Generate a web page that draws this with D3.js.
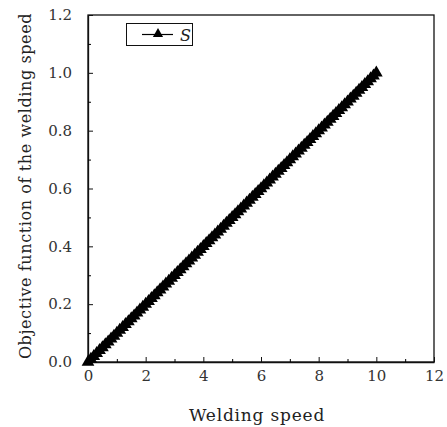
<!DOCTYPE html>
<html><head><meta charset="utf-8">
<script src="https://d3js.org/d3.v7.min.js"></script>
<style>body{margin:0;background:#fff}svg{display:block}</style>
</head><body>
<script>
const speedValues = [0,0.1,0.2,0.3,0.4,0.5,0.6,0.7,0.8,0.9,1.0,1.1,1.2,1.3,1.4,1.5,1.6,1.7,1.8,1.9,2.0,2.1,2.2,2.3,2.4,2.5,2.6,2.7,2.8,2.9,3.0,3.1,3.2,3.3,3.4,3.5,3.6,3.7,3.8,3.9,4.0,4.1,4.2,4.3,4.4,4.5,4.6,4.7,4.8,4.9,5.0,5.1,5.2,5.3,5.4,5.5,5.6,5.7,5.8,5.9,6.0,6.1,6.2,6.3,6.4,6.5,6.6,6.7,6.8,6.9,7.0,7.1,7.2,7.3,7.4,7.5,7.6,7.7,7.8,7.9,8.0,8.1,8.2,8.3,8.4,8.5,8.6,8.7,8.8,8.9,9.0,9.1,9.2,9.3,9.4,9.5,9.6,9.7,9.8,9.9,10.0];
const objectiveValues = [0,0.01,0.02,0.03,0.04,0.05,0.06,0.07,0.08,0.09,0.10,0.11,0.12,0.13,0.14,0.15,0.16,0.17,0.18,0.19,0.20,0.21,0.22,0.23,0.24,0.25,0.26,0.27,0.28,0.29,0.30,0.31,0.32,0.33,0.34,0.35,0.36,0.37,0.38,0.39,0.40,0.41,0.42,0.43,0.44,0.45,0.46,0.47,0.48,0.49,0.50,0.51,0.52,0.53,0.54,0.55,0.56,0.57,0.58,0.59,0.60,0.61,0.62,0.63,0.64,0.65,0.66,0.67,0.68,0.69,0.70,0.71,0.72,0.73,0.74,0.75,0.76,0.77,0.78,0.79,0.80,0.81,0.82,0.83,0.84,0.85,0.86,0.87,0.88,0.89,0.90,0.91,0.92,0.93,0.94,0.95,0.96,0.97,0.98,0.99,1.00];
const xTicks = [0,2,4,6,8,10,12];
const xMinor = [1,3,5,7,9,11];
const yTicks = [0,0.2,0.4,0.6,0.8,1.0,1.2];
const yMinor = [0.1,0.3,0.5,0.7,0.9,1.1];
const seriesName = "S";
const xTitle = "Welding speed";
const yTitle = "Objective function of the welding speed";

const FONT = "'DejaVu Serif', 'Liberation Serif', serif";
const W = 447, H = 427;
const m = {l:88, r:13, t:15, b:65};
const svg = d3.select("body").append("svg").attr("width",W).attr("height",H)
  .style("font-family",FONT);
const x = d3.scaleLinear().domain([0,12]).range([m.l, W-m.r]);
const y = d3.scaleLinear().domain([0,1.2]).range([H-m.b, m.t]);

// frame
svg.append("rect").attr("x",x(0)).attr("y",y(1.2)).attr("width",x(12)-x(0)).attr("height",y(0)-y(1.2))
  .attr("fill","none").attr("stroke","#111").attr("stroke-width",1.3);

const xa = svg.append("g").attr("transform",`translate(0,${y(0)})`)
  .call(d3.axisBottom(x).tickValues(xTicks).tickSizeInner(-5).tickSizeOuter(0).tickPadding(8).tickFormat(d3.format("d")));
const ya = svg.append("g").attr("transform",`translate(${x(0)},0)`)
  .call(d3.axisLeft(y).tickValues(yTicks).tickSizeInner(-5).tickSizeOuter(0).tickPadding(16).tickFormat(d3.format(".1f")));
[xa,ya].forEach(g=>{
  g.select(".domain").attr("stroke","#111").attr("stroke-width",1.3);
  g.selectAll("line").attr("stroke","#111");
  g.selectAll("text").style("font-family",FONT).style("font-size","15px").attr("fill","#333");});
svg.append("g").attr("transform",`translate(0,${y(0)})`)
  .call(d3.axisBottom(x).tickValues(xMinor).tickSizeInner(-3).tickSizeOuter(0).tickFormat(""))
  .call(g=>g.select(".domain").remove());
svg.append("g").attr("transform",`translate(${x(0)},0)`)
  .call(d3.axisLeft(y).tickValues(yMinor).tickSizeInner(-3).tickSizeOuter(0).tickFormat(""))
  .call(g=>g.select(".domain").remove());

// line + markers
const data = speedValues.map((v,i)=>({x:v,y:objectiveValues[i]}));
svg.append("path").datum(data).attr("fill","none").attr("stroke","#000").attr("stroke-width",1.2)
  .attr("d",d3.line().x(d=>x(d.x)).y(d=>y(d.y)));
const tri = d3.symbol().type(d3.symbolTriangle).size(70);
svg.append("g").selectAll("path").data(data).join("path")
  .attr("d",tri).attr("transform",d=>`translate(${x(d.x)},${y(d.y)})`).attr("fill","#000");

// legend
const lg = svg.append("g");
lg.append("rect").attr("x",126.5).attr("y",23.5).attr("width",66).attr("height",22).attr("fill","#fff").attr("stroke","#111").attr("stroke-width",1);
lg.append("line").attr("x1",142).attr("x2",173).attr("y1",34.5).attr("y2",34.5).attr("stroke","#000").attr("stroke-width",1.2);
lg.append("path").attr("d",d3.symbol().type(d3.symbolTriangle).size(45)).attr("transform","translate(158,34)").attr("fill","#000");
lg.append("text").attr("x",180).attr("y",41).style("font-family",FONT).style("font-size","16px").style("font-style","italic").attr("fill","#222").text(seriesName);

// titles
svg.append("text").attr("x",257).attr("y",421).attr("text-anchor","middle").style("font-family",FONT).style("font-size","17px").style("letter-spacing","0.8px").attr("fill","#222").text(xTitle);
svg.append("text").attr("transform",`translate(31,186) rotate(-90)`).attr("text-anchor","middle").style("font-family",FONT).style("font-size","16px").style("letter-spacing","0.6px").attr("fill","#222").text(yTitle);
</script>
</body></html>
